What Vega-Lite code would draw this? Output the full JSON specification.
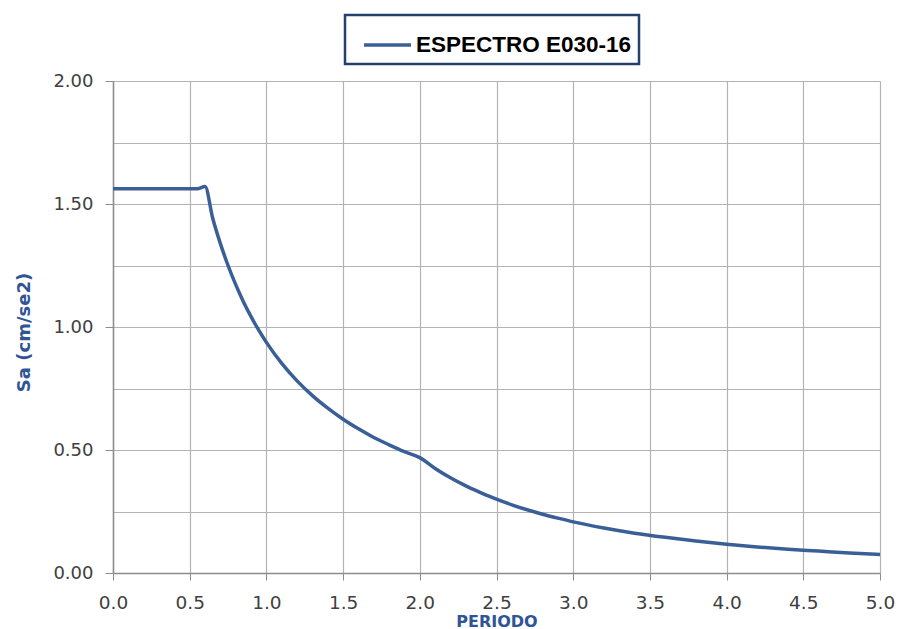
{
  "$schema": "https://vega.github.io/schema/vega-lite/v6.json",
  "width": 767,
  "height": 492,
  "autosize": {"type": "none"},
  "padding": {"left": 113, "top": 81, "right": 39, "bottom": 56},
  "background": "white",
  "config": {"view": {"stroke": null}, "legend": {"strokeWidth": 2.5}},
  "data": {
    "values": [
      {"T": 0.0, "Sa": 1.5625, "serie": "ESPECTRO E030-16"},
      {"T": 0.1, "Sa": 1.5625, "serie": "ESPECTRO E030-16"},
      {"T": 0.2, "Sa": 1.5625, "serie": "ESPECTRO E030-16"},
      {"T": 0.3, "Sa": 1.5625, "serie": "ESPECTRO E030-16"},
      {"T": 0.4, "Sa": 1.5625, "serie": "ESPECTRO E030-16"},
      {"T": 0.5, "Sa": 1.5625, "serie": "ESPECTRO E030-16"},
      {"T": 0.55, "Sa": 1.5625, "serie": "ESPECTRO E030-16"},
      {"T": 0.6, "Sa": 1.571, "serie": "ESPECTRO E030-16"},
      {"T": 0.65, "Sa": 1.442, "serie": "ESPECTRO E030-16"},
      {"T": 0.7, "Sa": 1.339, "serie": "ESPECTRO E030-16"},
      {"T": 0.75, "Sa": 1.25, "serie": "ESPECTRO E030-16"},
      {"T": 0.8, "Sa": 1.172, "serie": "ESPECTRO E030-16"},
      {"T": 0.85, "Sa": 1.103, "serie": "ESPECTRO E030-16"},
      {"T": 0.9, "Sa": 1.042, "serie": "ESPECTRO E030-16"},
      {"T": 0.95, "Sa": 0.987, "serie": "ESPECTRO E030-16"},
      {"T": 1.0, "Sa": 0.9375, "serie": "ESPECTRO E030-16"},
      {"T": 1.1, "Sa": 0.852, "serie": "ESPECTRO E030-16"},
      {"T": 1.2, "Sa": 0.781, "serie": "ESPECTRO E030-16"},
      {"T": 1.3, "Sa": 0.721, "serie": "ESPECTRO E030-16"},
      {"T": 1.4, "Sa": 0.67, "serie": "ESPECTRO E030-16"},
      {"T": 1.5, "Sa": 0.625, "serie": "ESPECTRO E030-16"},
      {"T": 1.6, "Sa": 0.586, "serie": "ESPECTRO E030-16"},
      {"T": 1.7, "Sa": 0.551, "serie": "ESPECTRO E030-16"},
      {"T": 1.8, "Sa": 0.521, "serie": "ESPECTRO E030-16"},
      {"T": 1.9, "Sa": 0.493, "serie": "ESPECTRO E030-16"},
      {"T": 2.0, "Sa": 0.469, "serie": "ESPECTRO E030-16"},
      {"T": 2.1, "Sa": 0.425, "serie": "ESPECTRO E030-16"},
      {"T": 2.2, "Sa": 0.387, "serie": "ESPECTRO E030-16"},
      {"T": 2.3, "Sa": 0.354, "serie": "ESPECTRO E030-16"},
      {"T": 2.4, "Sa": 0.326, "serie": "ESPECTRO E030-16"},
      {"T": 2.5, "Sa": 0.3, "serie": "ESPECTRO E030-16"},
      {"T": 2.6, "Sa": 0.277, "serie": "ESPECTRO E030-16"},
      {"T": 2.7, "Sa": 0.257, "serie": "ESPECTRO E030-16"},
      {"T": 2.8, "Sa": 0.239, "serie": "ESPECTRO E030-16"},
      {"T": 2.9, "Sa": 0.223, "serie": "ESPECTRO E030-16"},
      {"T": 3.0, "Sa": 0.208, "serie": "ESPECTRO E030-16"},
      {"T": 3.2, "Sa": 0.183, "serie": "ESPECTRO E030-16"},
      {"T": 3.4, "Sa": 0.162, "serie": "ESPECTRO E030-16"},
      {"T": 3.6, "Sa": 0.145, "serie": "ESPECTRO E030-16"},
      {"T": 3.8, "Sa": 0.13, "serie": "ESPECTRO E030-16"},
      {"T": 4.0, "Sa": 0.117, "serie": "ESPECTRO E030-16"},
      {"T": 4.2, "Sa": 0.106, "serie": "ESPECTRO E030-16"},
      {"T": 4.4, "Sa": 0.097, "serie": "ESPECTRO E030-16"},
      {"T": 4.6, "Sa": 0.089, "serie": "ESPECTRO E030-16"},
      {"T": 4.8, "Sa": 0.081, "serie": "ESPECTRO E030-16"},
      {"T": 5.0, "Sa": 0.075, "serie": "ESPECTRO E030-16"}
    ]
  },
  "mark": {"type": "line", "interpolate": "monotone", "strokeWidth": 3.5, "clip": false},
  "encoding": {
    "x": {
      "field": "T",
      "type": "quantitative",
      "title": "PERIODO",
      "scale": {"domain": [0, 5], "nice": false, "zero": false},
      "axis": {
        "values": [0, 0.5, 1, 1.5, 2, 2.5, 3, 3.5, 4, 4.5, 5],
        "format": ".1f",
        "grid": true,
        "gridColor": "#B3B3B3",
        "gridWidth": 1.2,
        "domainColor": "#8C8C8C",
        "domainWidth": 1.5,
        "tickColor": "#8C8C8C",
        "tickSize": 7,
        "labelPadding": 13,
        "labelFont": "DejaVu Sans",
        "labelFontSize": 18.5,
        "labelColor": "#404040",
        "labelFlush": false,
        "labelOverlap": false,
        "titleFont": "DejaVu Sans",
        "titleFontSize": 16,
        "titleFontWeight": "bold",
        "titleColor": "#2F5597",
        "titleBaseline": "alphabetic",
        "titleY": 53
      }
    },
    "y": {
      "field": "Sa",
      "type": "quantitative",
      "title": "Sa (cm/se2)",
      "scale": {"domain": [0, 2], "nice": false},
      "axis": {
        "values": [0, 0.25, 0.5, 0.75, 1, 1.25, 1.5, 1.75, 2],
        "labelExpr": "(datum.value * 2) % 1 === 0 ? format(datum.value, '.2f') : ''",
        "tickOpacity": {"expr": "(datum.value * 2) % 1 === 0 ? 1 : 0"},
        "grid": true,
        "gridColor": "#B3B3B3",
        "gridWidth": 1.2,
        "domainColor": "#8C8C8C",
        "domainWidth": 1.5,
        "tickColor": "#8C8C8C",
        "tickSize": 8,
        "labelPadding": 12,
        "labelFont": "DejaVu Sans",
        "labelFontSize": 18,
        "labelColor": "#404040",
        "labelFlush": false,
        "labelOverlap": false,
        "titleFont": "DejaVu Sans",
        "titleFontSize": 18,
        "titleFontWeight": "bold",
        "titleColor": "#2F5597",
        "titleBaseline": "alphabetic",
        "titleX": -84,
        "titleY": 251
      }
    },
    "color": {
      "field": "serie",
      "type": "nominal",
      "scale": {"range": ["#3A5F97"]},
      "legend": {
        "title": null,
        "orient": "none",
        "legendX": 232,
        "legendY": -66,
        "direction": "vertical",
        "padding": 7,
        "strokeColor": "#24406E",
        "fillColor": "white",
        "symbolType": "M-0.524,0H1.714",
        "symbolSize": 1764,
        "symbolStrokeWidth": 3.5,
        "labelOffset": 18,
        "labelFont": "Liberation Sans",
        "labelFontSize": 22.5,
        "labelFontWeight": "bold",
        "labelColor": "#000000",
        "labelLimit": 400
      }
    }
  }
}
